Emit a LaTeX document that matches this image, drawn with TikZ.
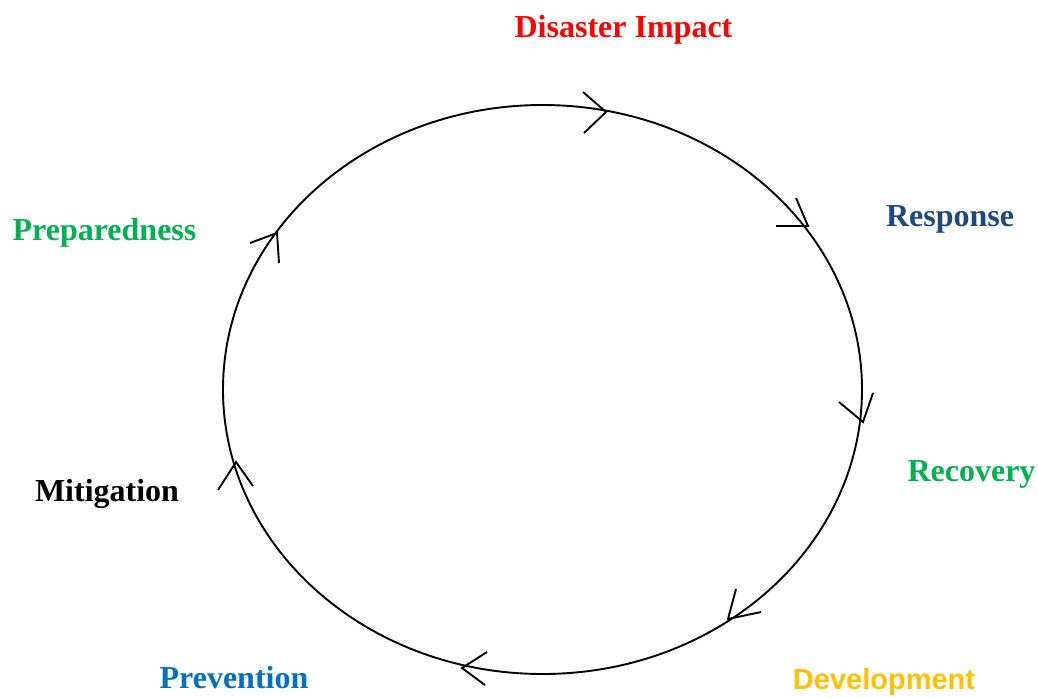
\documentclass[tikz,border=0pt]{standalone}
\usepackage{fontspec}
\setmainfont{Liberation Serif}
\newfontfamily\devfont{Liberation Sans}
\usepackage{xcolor}
\usepackage{tikz}

\definecolor{respblue}{HTML}{1F497D}
\definecolor{phasegreen}{HTML}{00B050}
\definecolor{devgold}{HTML}{FFC000}
\definecolor{prevblue}{HTML}{0070C0}

\tikzset{
  phase/.style={inner sep=0pt, anchor=base, font=\bfseries\fontsize{32}{38}\selectfont},
  cycleline/.style={line width=1.9pt, black},
  head/.style={line width=1.9pt, black, line join=miter}
}

\begin{document}
\begin{tikzpicture}[x=1pt, y=-1pt]
               \useasboundingbox (0,0) rectangle (1038,697);
               % the cycle
               \draw[cycleline] (542.5,389.5) ellipse (319.5 and 284.5);
               % arrow heads, clockwise: tip / first arm / second arm
               \foreach \tx/\ty/\ax/\ay/\bx/\by in {
                   606/112/583/92/584/133,
                   808/226/776/226/796/198,
                   863/422/839/402/873/393,
                   728/619/736/589/761/612,
                   462/668/487/652/485/685,
                   236/462/218/490/253/486,
                   277/233/250/243/279/263}
                   \draw[head] (\ax,\ay) -- (\tx,\ty) -- (\bx,\by);
               % phase labels
               \node[phase, color=red] (impact) at (623.5,37) {Disaster Impact};
               \node[phase, color=respblue] (response) at (950,226) {Response};
               \node[phase, color=phasegreen] (recovery) at (971.5,481) {Recovery};
               \node[phase, color=devgold, font=\devfont\bfseries\fontsize{29}{34}\selectfont] (development) at (884,689) {Development};
               \node[phase, color=prevblue] (prevention) at (234,688) {Prevention};
               \node[phase, color=black] (mitigation) at (107,501) {Mitigation};
               \node[phase, color=phasegreen] (preparedness) at (104.5,240) {Preparedness};
           \end{tikzpicture}
\end{document}
